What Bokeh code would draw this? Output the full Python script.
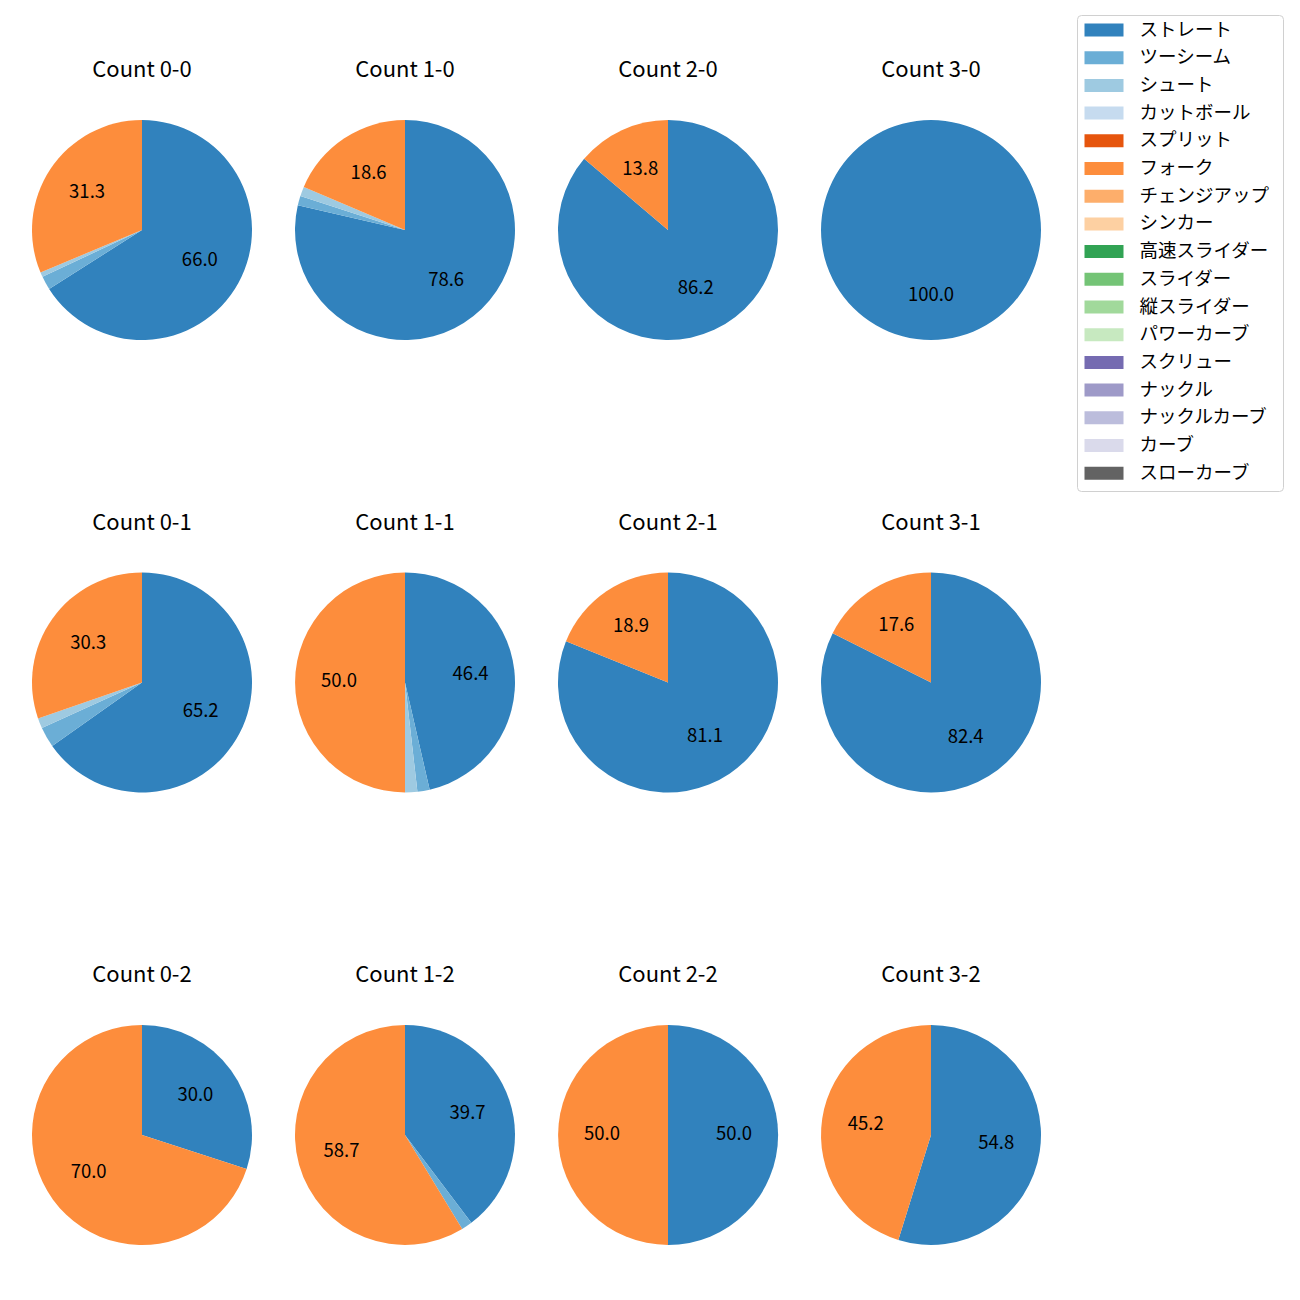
import math
from bokeh.plotting import figure
from bokeh.models import Range1d, ColumnDataSource, Quad
from bokeh.embed import file_html
from bokeh.resources import INLINE
from bokeh.core.properties import value

# ---------------- data ----------------
pitch_types = ["ストレート", "ツーシーム", "シュート", "カットボール", "スプリット", "フォーク",
               "チェンジアップ", "シンカー", "高速スライダー", "スライダー", "縦スライダー",
               "パワーカーブ", "スクリュー", "ナックル", "ナックルカーブ", "カーブ", "スローカーブ"]
pitch_colors = ["#3182bd", "#6baed6", "#9ecae1", "#c6dbef", "#e6550d", "#fd8d3c",
                "#fdae6b", "#fdd0a2", "#31a354", "#74c476", "#a1d99b", "#c7e9c0",
                "#756bb1", "#9e9ac8", "#bcbddc", "#dadaeb", "#636363"]

counts = ["0-0", "1-0", "2-0", "3-0",
          "0-1", "1-1", "2-1", "3-1",
          "0-2", "1-2", "2-2", "3-2"]

straight = [66.0, 78.6, 86.2, 100.0, 65.2, 46.4, 81.1, 82.4, 30.0, 39.7, 50.0, 54.8]
twoseam  = [2.0, 1.4, 0.0, 0.0, 3.0, 1.8, 0.0, 0.0, 0.0, 1.6, 0.0, 0.0]
shoot    = [0.7, 1.4, 0.0, 0.0, 1.5, 1.8, 0.0, 0.0, 0.0, 0.0, 0.0, 0.0]
fork     = [31.3, 18.6, 13.8, 0.0, 30.3, 50.0, 18.9, 17.6, 70.0, 58.7, 50.0, 45.2]
zeros = [0.0] * 12

series = {t: zeros for t in pitch_types}
series["ストレート"] = straight
series["ツーシーム"] = twoseam
series["シュート"] = shoot
series["フォーク"] = fork

# ---------------- layout ----------------
FONT = "Noto Sans CJK JP"
W = H = 1284
col_x = [141.5, 404.5, 667.5, 930.5]
row_y = [229.5, 682.0, 1134.5]   # screen y (top-down)
R = 110.0
TITLE_OFF = 163.0
LABEL_MIN = 5.0
EPS = 1e-6
TXT_UP = 2.5   # small baseline correction for text


def Y(sy):
    return 1284.0 - sy


p = figure(width=W, height=H, output_backend="svg", toolbar_location=None,
           x_range=Range1d(0, 1284), y_range=Range1d(0, 1284),
           min_border=0, min_border_left=0, min_border_right=0,
           min_border_top=0, min_border_bottom=0)
p.axis.visible = False
p.grid.visible = False
p.outline_line_color = None
p.background_fill_color = "white"
p.border_fill_color = "white"

# compute wedges per pitch type
wedge_data = {t: dict(x=[], y=[], s=[], e=[]) for t in pitch_types}
lab = dict(x=[], y=[], t=[])
tit = dict(x=[], y=[], t=[])
for i, c in enumerate(counts):
    cx = col_x[i % 4]
    cy = Y(row_y[i // 4])
    vals = [series[t][i] for t in pitch_types]
    tot = sum(vals)
    cum = 0.0
    for t, v in zip(pitch_types, vals):
        if v <= 0:
            continue
        f0 = cum / tot
        f1 = (cum + v) / tot
        cum += v
        a_start = math.radians(90 - 360 * f1)
        a_end = math.radians(90 - 360 * f0)
        if f1 - f0 >= 1.0 - 1e-9:
            a_start += EPS
        d = wedge_data[t]
        d["x"].append(cx); d["y"].append(cy); d["s"].append(a_start); d["e"].append(a_end)
        pct = v / tot * 100
        if pct >= LABEL_MIN:
            mid = math.radians(90 - 360 * (f0 + f1) / 2)
            lab["x"].append(cx + 0.6 * R * math.cos(mid))
            lab["y"].append(cy + 0.6 * R * math.sin(mid) + TXT_UP)
            lab["t"].append(f"{pct:.1f}")
    tit["x"].append(cx)
    tit["y"].append(cy + TITLE_OFF)
    tit["t"].append(f"Count {c}")

for t, col in zip(pitch_types, pitch_colors):
    src = ColumnDataSource(wedge_data[t])
    p.wedge(x="x", y="y", radius=R, start_angle="s", end_angle="e",
            source=src, fill_color=col, line_color=None)

p.text(x="x", y="y", text="t", source=ColumnDataSource(lab),
       text_align="center", text_baseline="middle", text_color="#000000",
       text_font=value(FONT), text_font_size="18.5px")
p.text(x="x", y="y", text="t", source=ColumnDataSource(tit),
       text_align="center", text_baseline="middle", text_color="#000000",
       text_font=value(FONT), text_font_size="22px")

# ---------------- legend ----------------
LX0, LX1, LY0, LY1 = 1077, 1283, 15, 491
qkw = dict(left=LX0, right=LX1, top=Y(LY0), bottom=Y(LY1),
           fill_color="white", fill_alpha=0.8, line_color="#d0d0d0", line_width=1)
if "border_radius" in Quad.properties():
    qkw["border_radius"] = 4
p.quad(**qkw)

first = 29.5
step = (472.7 - 29.5) / 16
leg = dict(l=[], r=[], t=[], b=[], c=[], tx=[], ty=[], lab=[])
for k, (t, col) in enumerate(zip(pitch_types, pitch_colors)):
    cyk = first + step * k
    leg["l"].append(1084); leg["r"].append(1123)
    leg["t"].append(Y(cyk - 6.5)); leg["b"].append(Y(cyk + 6.5))
    leg["c"].append(col)
    leg["tx"].append(1139); leg["ty"].append(Y(cyk) + TXT_UP); leg["lab"].append(t)
lsrc = ColumnDataSource(leg)
p.quad(left="l", right="r", top="t", bottom="b", fill_color="c", line_color=None, source=lsrc)
p.text(x="tx", y="ty", text="lab", source=lsrc, text_align="left", text_baseline="middle",
       text_color="#000000", text_font=value(FONT), text_font_size="18.5px")

open("out.html", "w").write(file_html(p, INLINE))
